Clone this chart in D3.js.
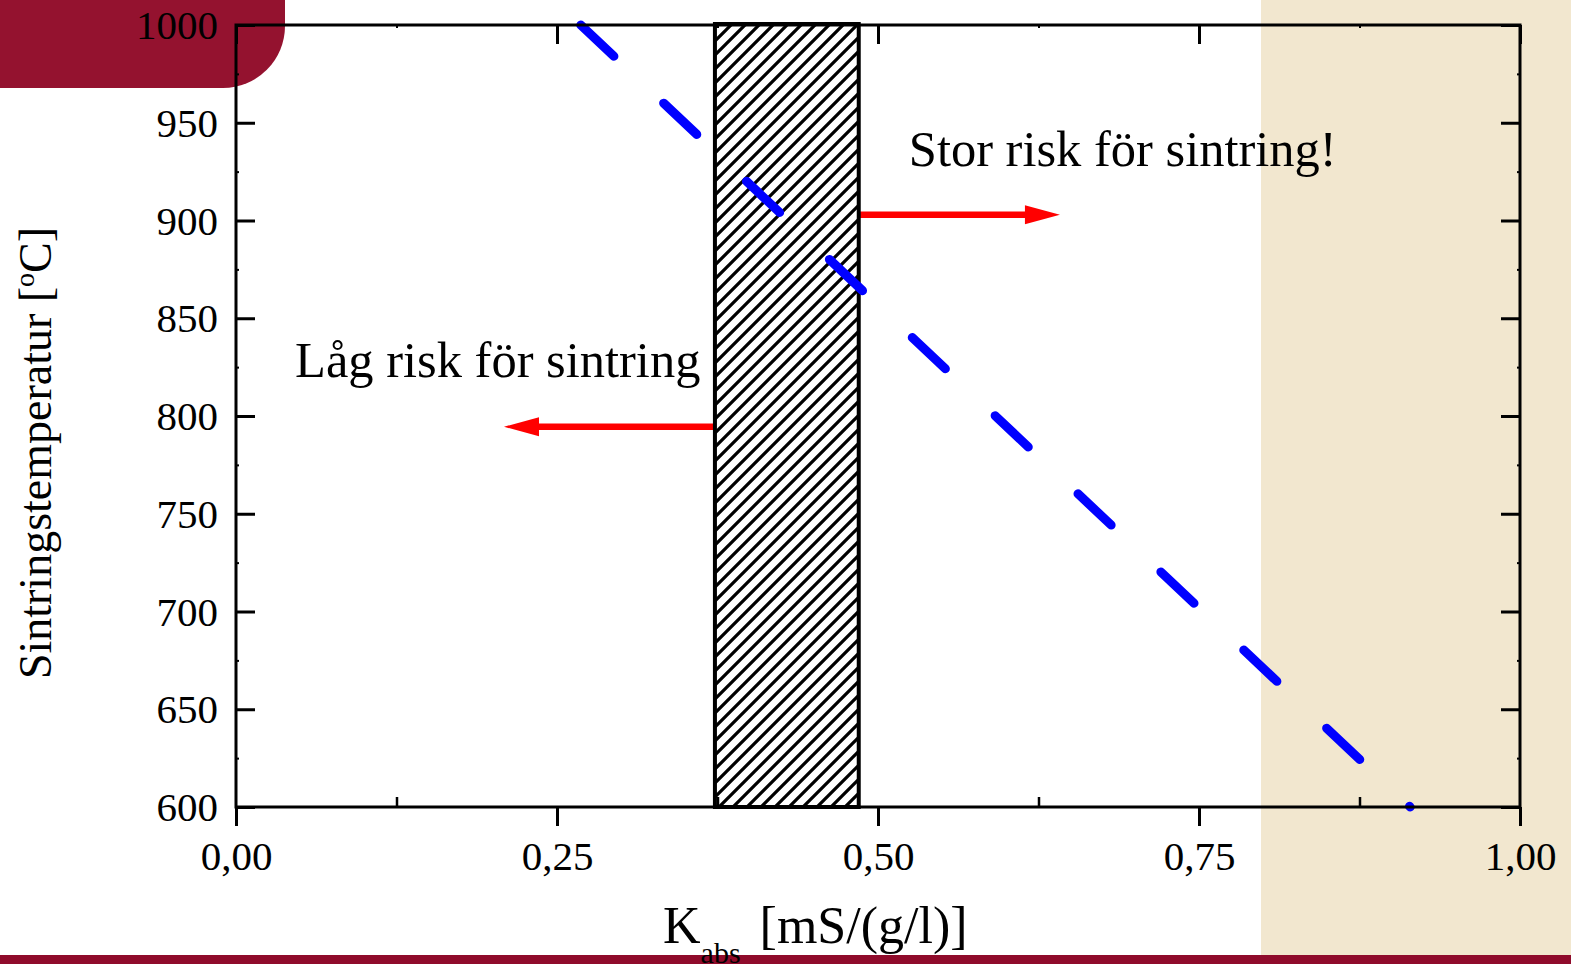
<!DOCTYPE html>
<html>
<head>
<meta charset="utf-8">
<script src="https://cdn.jsdelivr.net/npm/d3@7"></script>
<style>
  html, body { margin: 0; padding: 0; background: #fff; }
  svg { display: block; }
  text { font-family: "Liberation Serif", "Times New Roman", serif; fill: #000; }
</style>
</head>
<body>
<svg id="chart" width="1571" height="964"></svg>
<script>
// Axis ticks
const xMajorTicks = [0, 0.25, 0.5, 0.75, 1.0];
const xMinorTicks = [0.125, 0.375, 0.625, 0.875];
const yMajorTicks = [600, 650, 700, 750, 800, 850, 900, 950, 1000];
const yMinorTicks = [625, 675, 725, 775, 825, 875, 925, 975];

// Sintering temperature vs. absorbed conductivity (straight trend line)
const lineK = [0.2685, 0.9145];
const lineT = [1000, 600];

// Uncertain (hatched) interval of K_abs
const bandK = [0.373, 0.485];
const bandT = [600, 1000];

// Risk arrows: start K, end K, temperature
const arrowFromK = [0.4805, 0.3715];
const arrowToK = [0.6417, 0.2087];
const arrowT = [903, 794.5];

// Annotations
const noteTexts = ["Stor risk för sintring!", "Låg risk för sintring"];
const noteK = [0.524, 0.046];
const noteT = [928, 820];

const svg = d3.select("#chart");
const W = 1571, H = 964;
const plot = { left: 236, right: 1520, top: 25, bottom: 807 };

const x = d3.scaleLinear().domain([0, 1]).range([plot.left, plot.right]);
const y = d3.scaleLinear().domain([600, 1000]).range([plot.bottom, plot.top]);
const maroon = "#94122f";

// Slide background
svg.append("rect").attr("x", 0).attr("y", 0).attr("width", W).attr("height", H).attr("fill", "#fff");
svg.append("rect").attr("x", 1261).attr("y", 0).attr("width", W - 1261).attr("height", 955).attr("fill", "#f2e7cf");
svg.append("path").attr("d", "M0,0H285V26A62,62 0 0 1 223,88H0Z").attr("fill", maroon);
svg.append("rect").attr("x", 0).attr("y", 955).attr("width", W).attr("height", H - 955).attr("fill", "#8f0b2b");

// Hatch pattern
const defs = svg.append("defs");
const pat = defs.append("pattern")
  .attr("id", "hatch").attr("patternUnits", "userSpaceOnUse")
  .attr("width", 14).attr("height", 14);
pat.append("rect").attr("width", 14).attr("height", 14).attr("fill", "#fff");
pat.append("path")
  .attr("d", "M-3.5,3.5L3.5,-3.5M0,14L14,0M10.5,17.5L17.5,10.5")
  .attr("stroke", "#000").attr("stroke-width", 3.2);

// Arrows
const arrows = arrowT.map((t, i) => ({ from: arrowFromK[i], to: arrowToK[i], t }));
const ag = svg.append("g");
arrows.forEach(a => {
  const x0 = x(a.from), x1 = x(a.to), yy = y(a.t);
  const dir = Math.sign(x1 - x0);
  const headLen = 35, headHalf = 9.5;
  ag.append("line")
    .attr("x1", x0).attr("y1", yy)
    .attr("x2", x1 - dir * headLen + dir * 2).attr("y2", yy)
    .attr("stroke", "#ff0000").attr("stroke-width", 6.5);
  ag.append("path")
    .attr("d", `M${x1},${yy}L${x1 - dir * headLen},${yy - headHalf}L${x1 - dir * headLen},${yy + headHalf}Z`)
    .attr("fill", "#ff0000");
});

// Hatched band
svg.append("rect")
  .attr("x", x(bandK[0])).attr("y", y(bandT[1]) - 1)
  .attr("width", x(bandK[1]) - x(bandK[0]))
  .attr("height", y(bandT[0]) - y(bandT[1]) + 1)
  .attr("fill", "url(#hatch)")
  .attr("stroke", "#000").attr("stroke-width", 4);

// Dashed trend line
const lineData = lineK.map((k, i) => [k, lineT[i]]);
const trend = svg.append("path")
  .datum(lineData)
  .attr("d", d3.line().x(d => x(d[0])).y(d => y(d[1])))
  .attr("fill", "none")
  .attr("stroke", "#0000ff")
  .attr("stroke-width", 9)
  .attr("stroke-linecap", "round");
const L = trend.node().getTotalLength();
const period = (L - 1) / 10;
trend.attr("stroke-dasharray", `${period * 0.40} ${period * 0.60}`);

// Frame
svg.append("rect")
  .attr("x", plot.left).attr("y", plot.top)
  .attr("width", plot.right - plot.left).attr("height", plot.bottom - plot.top)
  .attr("fill", "none").attr("stroke", "#000").attr("stroke-width", 3);

const fmtX = d => d3.format(".2f")(d).replace(".", ",");
const fmtY = d3.format("d");

function styleAxis(g, width) {
  g.select(".domain").remove();
  g.selectAll(".tick line").attr("stroke", "#000").attr("stroke-width", width);
}

// Bottom axis: major ticks outward, minor ticks inward
const gB = svg.append("g").attr("transform", `translate(0,${plot.bottom})`)
  .call(d3.axisBottom(x).tickValues(xMajorTicks).tickSize(19).tickSizeOuter(0).tickFormat(fmtX));
styleAxis(gB, 3);
gB.selectAll(".tick text").attr("y", 63).attr("dy", null)
  .style("font-size", "41px").style("font-family", "'Liberation Serif', serif");
const gBm = svg.append("g").attr("transform", `translate(0,${plot.bottom})`)
  .call(d3.axisBottom(x).tickValues(xMinorTicks).tickSize(-10).tickSizeOuter(0).tickFormat(""));
styleAxis(gBm, 2.5);

// Top axis
const gT = svg.append("g").attr("transform", `translate(0,${plot.top})`)
  .call(d3.axisTop(x).tickValues(xMajorTicks).tickSize(-19).tickSizeOuter(0).tickFormat(""));
styleAxis(gT, 3);
const gTm = svg.append("g").attr("transform", `translate(0,${plot.top})`)
  .call(d3.axisTop(x).tickValues(xMinorTicks).tickSize(-3).tickSizeOuter(0).tickFormat(""));
styleAxis(gTm, 2);

// Left axis
const gL = svg.append("g").attr("transform", `translate(${plot.left},0)`)
  .call(d3.axisLeft(y).tickValues(yMajorTicks).tickSize(-19).tickSizeOuter(0).tickFormat(fmtY));
styleAxis(gL, 3);
gL.selectAll(".tick text").attr("x", -18).attr("dy", "0.33em")
  .style("font-size", "41px").style("font-family", "'Liberation Serif', serif");
const gLm = svg.append("g").attr("transform", `translate(${plot.left},0)`)
  .call(d3.axisLeft(y).tickValues(yMinorTicks).tickSize(-3).tickSizeOuter(0).tickFormat(""));
styleAxis(gLm, 2);

// Right axis
const gR = svg.append("g").attr("transform", `translate(${plot.right},0)`)
  .call(d3.axisRight(y).tickValues(yMajorTicks).tickSize(-19).tickSizeOuter(0).tickFormat(""));
styleAxis(gR, 3);
const gRm = svg.append("g").attr("transform", `translate(${plot.right},0)`)
  .call(d3.axisRight(y).tickValues(yMinorTicks).tickSize(-3).tickSizeOuter(0).tickFormat(""));
styleAxis(gRm, 2);

// Annotations
noteTexts.forEach((t, i) => {
  svg.append("text")
    .attr("x", x(noteK[i])).attr("y", y(noteT[i]))
    .style("font-size", "50.5px")
    .text(t);
});

// Axis titles
const xt = svg.append("text").attr("x", 663).attr("y", 943).style("font-size", "52px");
xt.append("tspan").text("K");
xt.append("tspan").attr("dy", 20).style("font-size", "30px").text("abs");
xt.append("tspan").attr("dy", -20).attr("dx", 6).text(" [mS/(g/l)]");

const yt = svg.append("text")
  .attr("transform", "translate(51,453) rotate(-90)")
  .attr("text-anchor", "middle")
  .style("font-size", "46px");
yt.append("tspan").text("Sintringstemperatur [");
yt.append("tspan").attr("dy", -17).style("font-size", "28px").text("o");
yt.append("tspan").attr("dy", 17).text("C]");
</script>
</body>
</html>
